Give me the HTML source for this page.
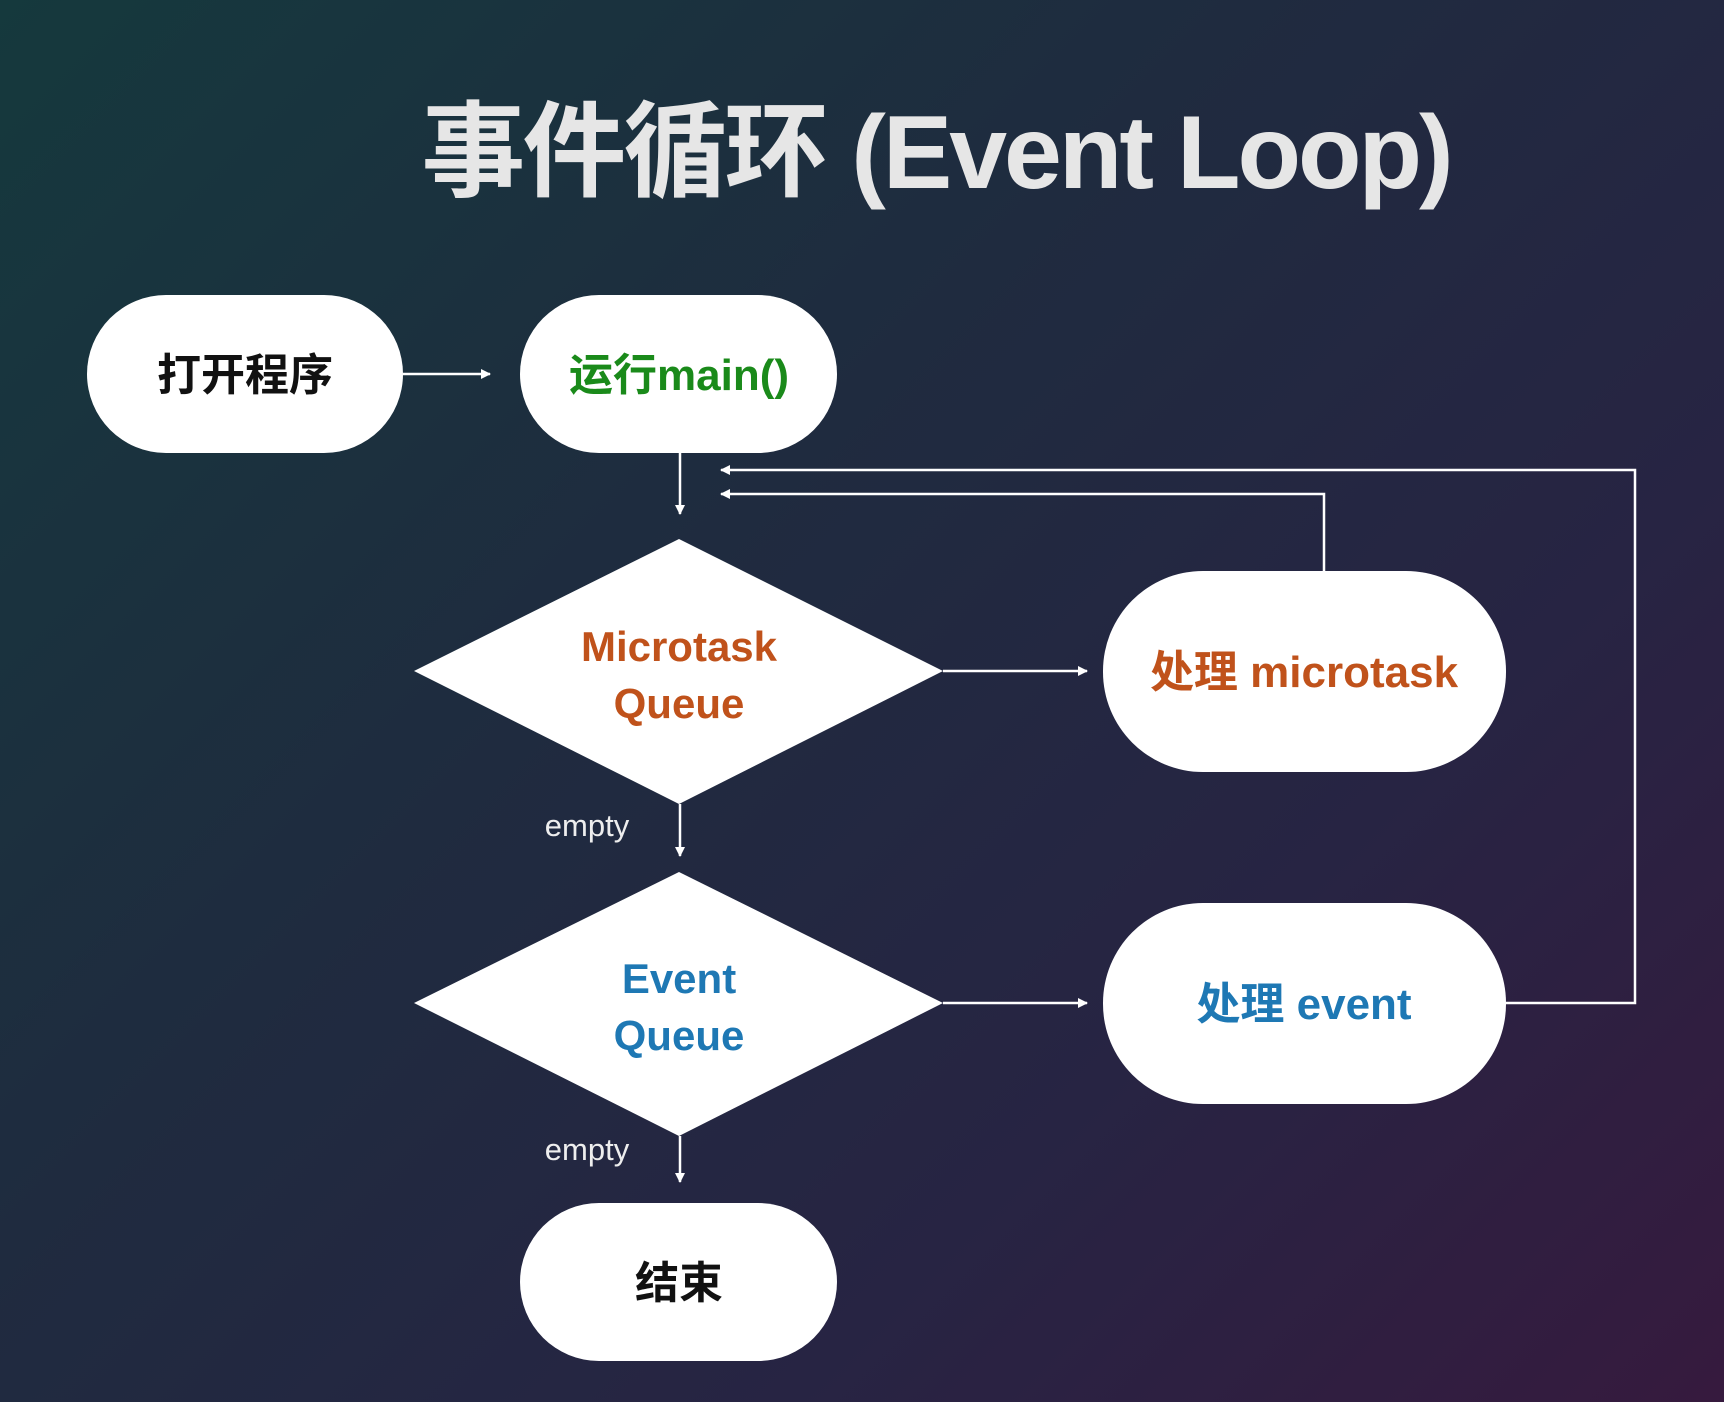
<!DOCTYPE html>
<html><head><meta charset="utf-8"><style>
html,body{margin:0;padding:0}
body{width:1724px;height:1402px;overflow:hidden;background:linear-gradient(135deg,#15393d 0%,#1f2b3f 40%,#272443 70%,#361a3e 100%);font-family:"Liberation Sans","Noto Sans CJK SC",sans-serif}
svg{position:absolute;left:0;top:0}
</style></head><body>
<svg width="1724" height="1402" viewBox="0 0 1724 1402" xmlns="http://www.w3.org/2000/svg">
<defs><marker id="a" markerWidth="10" markerHeight="10" refX="9" refY="5" orient="auto" markerUnits="userSpaceOnUse"><path d="M0,0 L10,5 L0,10 Z" fill="#fff"/></marker></defs>
<text x="936" y="188" text-anchor="middle" font-size="104" font-weight="bold" fill="#e6e6e6" font-family="Liberation Sans, Noto Sans CJK SC, sans-serif" letter-spacing="-3">事件循环 (Event Loop)</text>
<g fill="#fff">
<rect x="87" y="295" width="316" height="158" rx="79"/>
<rect x="520" y="295" width="317" height="158" rx="79"/>
<polygon points="679,539 943,671 679,804 414,671"/>
<rect x="1103" y="571" width="403" height="201" rx="100"/>
<polygon points="679,872 943,1003 679,1136 414,1003"/>
<rect x="1103" y="903" width="403" height="201" rx="100"/>
<rect x="520" y="1203" width="317" height="158" rx="79"/>
</g>
<g stroke="#fff" stroke-width="2.5" fill="none" marker-end="url(#a)">
<line x1="403" y1="374" x2="490" y2="374"/>
<line x1="680" y1="453" x2="680" y2="514"/>
<line x1="943" y1="671" x2="1087" y2="671"/>
<line x1="680" y1="804" x2="680" y2="856"/>
<line x1="943" y1="1003" x2="1087" y2="1003"/>
<line x1="680" y1="1136" x2="680" y2="1182"/>
<polyline points="1324,571 1324,494 721,494"/>
<polyline points="1506,1003 1635,1003 1635,470 721,470"/>
</g>
<g font-weight="bold" text-anchor="middle" font-size="44">
<text x="245" y="390" fill="#111">打开程序</text>
<text x="679" y="390" fill="#1a8a1a">运行main()</text>
<text x="679" y="661" fill="#c0521b" font-size="42">Microtask</text>
<text x="679" y="718" fill="#c0521b" font-size="42">Queue</text>
<text x="1304" y="687" fill="#c0521b">处理 microtask</text>
<text x="679" y="993" fill="#1e78b4" font-size="42">Event</text>
<text x="679" y="1050" fill="#1e78b4" font-size="42">Queue</text>
<text x="1304" y="1019" fill="#1e78b4">处理 event</text>
<text x="679" y="1298" fill="#111">结束</text>
</g>
<g fill="#eee" font-size="31" text-anchor="middle">
<text x="587" y="836">empty</text>
<text x="587" y="1160">empty</text>
</g>
</svg>
</body></html>
